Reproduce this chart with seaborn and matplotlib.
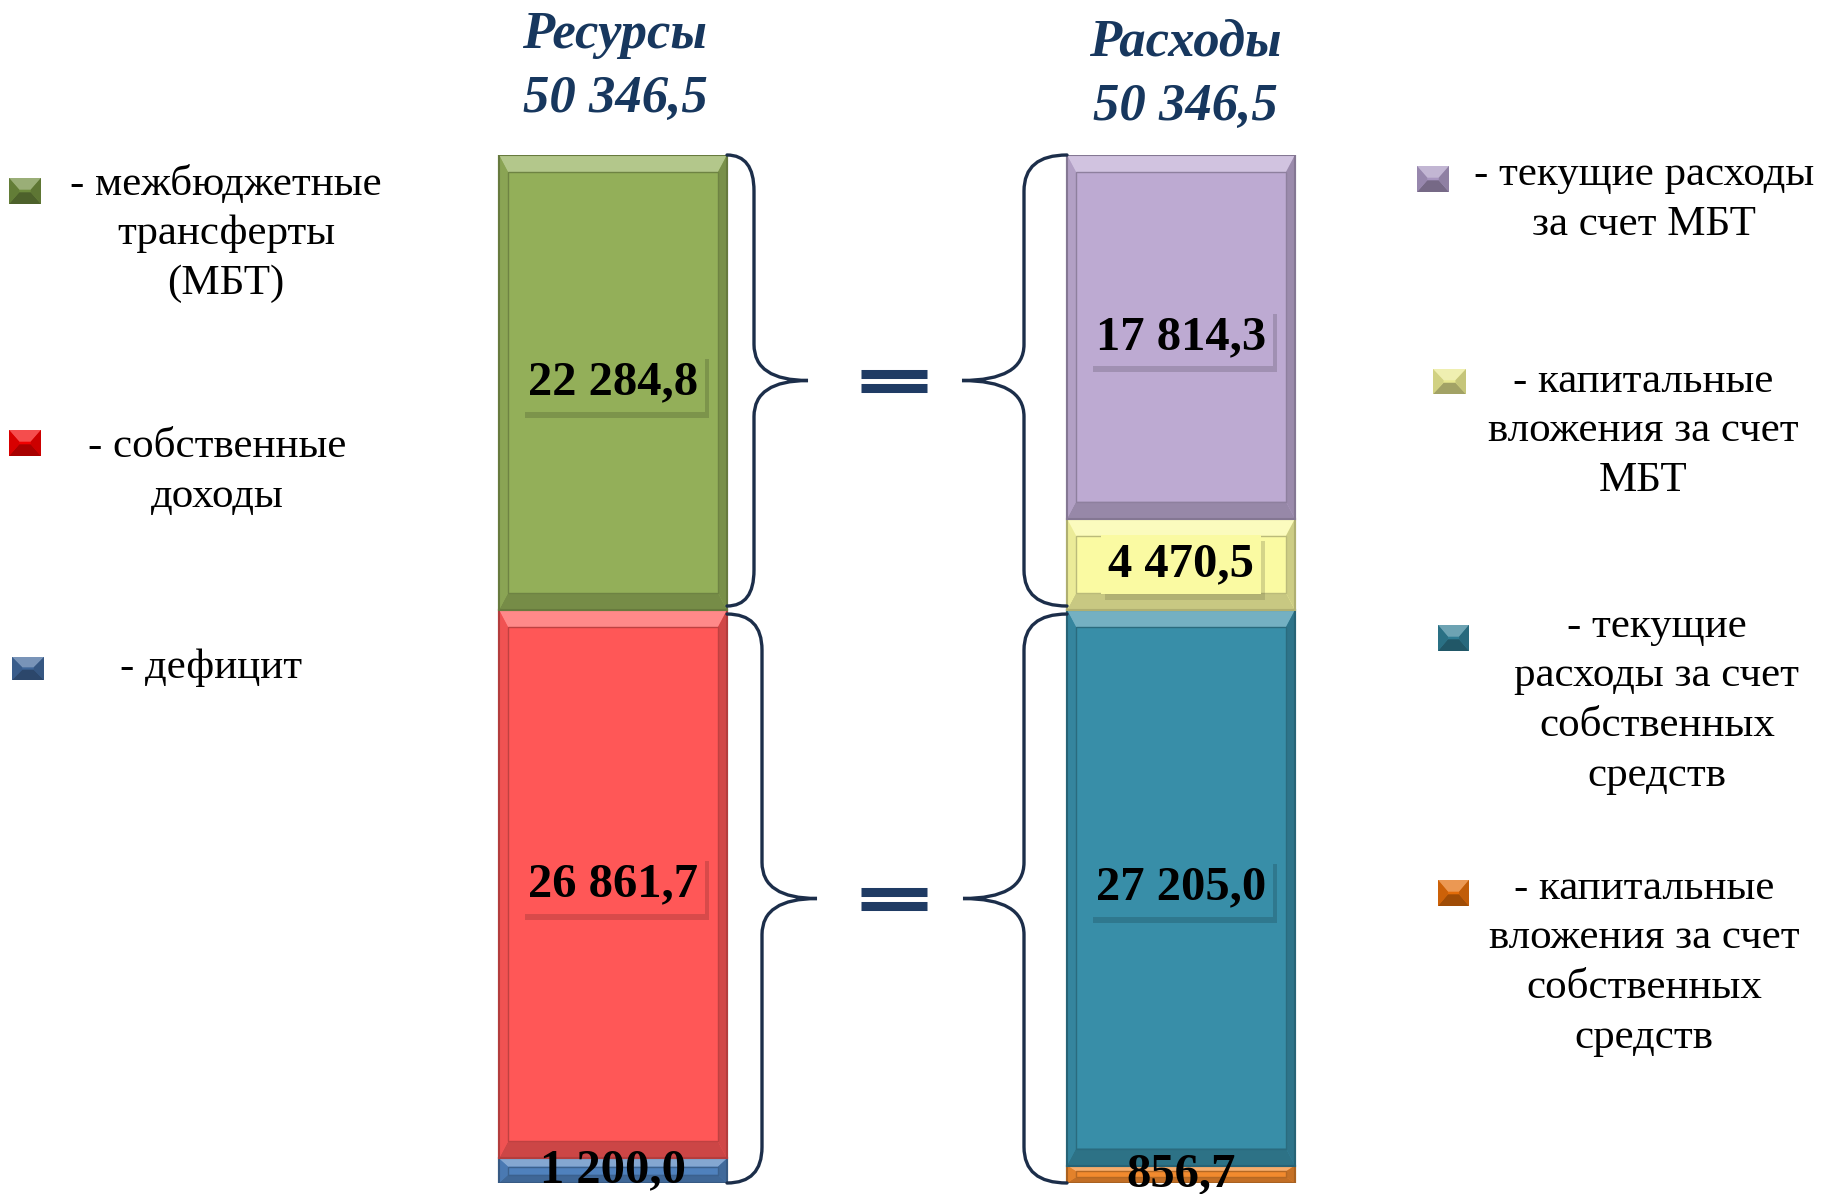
import numpy as np
import matplotlib
matplotlib.use("Agg")
import matplotlib.pyplot as plt
import matplotlib.colors as mcolors
from matplotlib.patches import Polygon, PathPatch, Rectangle
from matplotlib.path import Path
import seaborn as sns

# --- data -------------------------------------------------------------
sides = ["Ресурсы", "Расходы"]

# Ресурсы, снизу вверх
res_names = ["- дефицит", "- собственные\nдоходы", "- межбюджетные\nтрансферты\n(МБТ)"]
res_values = [1200.0, 26861.7, 22284.8]
res_colors = ["#4F81BD", "#FF5757", "#93AF59"]
res_marker_colors = ["#3F6699", "#F00000", "#6E8B3D"]

# Расходы, снизу вверх
exp_names = ["- капитальные\nвложения за счет\nсобственных\nсредств",
             "- текущие\nрасходы за счет\nсобственных\nсредств",
             "- капитальные\nвложения за счет\nМБТ",
             "- текущие расходы\nза счет МБТ"]
exp_values = [856.7, 27205.0, 4470.5, 17814.3]
exp_colors = ["#F28A2E", "#388EA8", "#FAFAA2", "#BDAAD2"]
exp_marker_colors = ["#E36C09", "#2F7C93", "#E8E890", "#A896C0"]

NAVY = "#17375E"
BRACE = "#1C2E4A"


def fmt(v):
    return f"{v:,.1f}".replace(",", " ").replace(".", ",")


def shade(color, f):
    rgb = np.array(mcolors.to_rgb(color))
    if f >= 0:
        return tuple(rgb + (1 - rgb) * f)
    return tuple(rgb * (1 + f))


# --- figure -----------------------------------------------------------
sns.set_theme(style="white")
plt.rcParams["font.family"] = ["Liberation Serif", "DejaVu Serif"]

W, H = 1824, 1194
fig = plt.figure(figsize=(W / 100, H / 100), dpi=100)
fig.patch.set_facecolor("white")

bar_top, bar_bot = 155, 1183          # pixel rows of the bar column
ax = fig.add_axes([0, (H - bar_bot) / H, 1, (bar_bot - bar_top) / H])
ax.set_facecolor("none")

total = sum(res_values)
unit_px = 568.0                        # pixels between the two bar centres
BAR_W = 228 / unit_px

for side, values, colors in [(sides[0], res_values, res_colors),
                             (sides[1], exp_values, exp_colors)]:
    base = 0.0
    for v, c in zip(values, colors):
        sns.barplot(x=[side], y=[v], order=sides, bottom=base, color=c,
                    width=BAR_W, saturation=1, ax=ax,
                    edgecolor=shade(c, -0.3), linewidth=1.5)
        base += v

ax.set_xlim(-613 / unit_px, 1 + (W - 1181) / unit_px)
ax.set_ylim(0, total)
ax.axis("off")

px_x = 1 / unit_px
px_y = total / (bar_bot - bar_top)

# bevel overlay for each bar segment
seg_colors = res_colors + exp_colors
bars = [p for p in ax.patches if isinstance(p, Rectangle)]
for p, c in zip(bars, seg_colors):
    x0, w = p.get_x(), p.get_width()
    y0, h = p.get_y(), p.get_height()
    x1, y1 = x0 + w, y0 + h
    ix = 9 * px_x
    iy = min(17 * px_y, h / 3)
    polys = [
        ([(x0, y1), (x1, y1), (x1 - ix, y1 - iy), (x0 + ix, y1 - iy)], shade(c, 0.3)),
        ([(x0, y0), (x1, y0), (x1 - ix, y0 + iy), (x0 + ix, y0 + iy)], shade(c, -0.2)),
        ([(x0, y0), (x0 + ix, y0 + iy), (x0 + ix, y1 - iy), (x0, y1)], shade(c, -0.06)),
        ([(x1, y0), (x1 - ix, y0 + iy), (x1 - ix, y1 - iy), (x1, y1)], shade(c, -0.18)),
    ]
    for pts, col in polys:
        ax.add_patch(Polygon(pts, closed=True, fc=col, ec="none", zorder=3))
    ax.add_patch(Rectangle((x0 + ix, y0 + iy), w - 2 * ix, h - 2 * iy, fill=False,
                           ec=shade(c, -0.25), lw=1.0, zorder=3))
    ax.add_patch(Rectangle((x0, y0), w, h, fill=False, ec=shade(c, -0.3), lw=1.5, zorder=3))

# value labels
boxed = []
for p, c, v in zip(bars, seg_colors, res_values + exp_values):
    cx = p.get_x() + p.get_width() / 2
    cy = p.get_y() + p.get_height() / 2
    if p.get_height() > 3000:
        t = ax.text(cx, cy, fmt(v), ha="center", va="center", fontsize=35,
                    fontweight="bold", color="black", zorder=5,
                    bbox=dict(boxstyle="square,pad=0.15", fc=c, ec="none"))
        boxed.append((t, c))
    else:
        ax.text(cx, cy, fmt(v), ha="center", va="center", fontsize=35,
                fontweight="bold", color="black", zorder=5, clip_on=False)

# soft shadow under the label boxes
fig.canvas.draw()
inv = ax.transData.inverted()
for t, c in boxed:
    bb = t.get_bbox_patch().get_window_extent()
    (bx0, by0), (bx1, by1) = inv.transform([(bx0_, by0_) for bx0_, by0_ in
                                            [(bb.x0 + 4, bb.y0 - 6), (bb.x1 + 4, bb.y1 - 6)]])
    ax.add_patch(Rectangle((bx0, by0), bx1 - bx0, by1 - by0, fc=shade(c, -0.5),
                           ec="none", alpha=0.3, zorder=4.5))


# curly braces
def brace(x_edge, y_lo, y_hi, d_line, d_tip, direction):
    r = 36 * px_y
    xe = x_edge
    xl = x_edge + direction * d_line * px_x
    xt = x_edge + direction * d_tip * px_x
    ym = (y_lo + y_hi) / 2
    verts = [(xe, y_hi), (xl, y_hi), (xl, y_hi - r),
             (xl, ym + r), (xl, ym), (xt, ym),
             (xl, ym), (xl, ym - r),
             (xl, y_lo + r), (xl, y_lo), (xe, y_lo)]
    codes = [Path.MOVETO, Path.CURVE3, Path.CURVE3,
             Path.LINETO, Path.CURVE3, Path.CURVE3,
             Path.CURVE3, Path.CURVE3,
             Path.LINETO, Path.CURVE3, Path.CURVE3]
    ax.add_patch(PathPatch(Path(verts, codes), fill=False, ec=BRACE, lw=2.4,
                           zorder=6, clip_on=False, capstyle="round"))
    return ym


gap = 4 * px_y
left_edge = bars[0].get_x() + bars[0].get_width()
right_edge = bars[3].get_x()
res_split = res_values[0] + res_values[1]
exp_split = exp_values[0] + exp_values[1]

ym_top = brace(left_edge, res_split + gap, total, 27, 81, +1)
brace(right_edge, exp_split + gap, total, 43, 105, -1)
ym_bot = brace(left_edge, 0, res_split - gap, 35, 90, +1)
brace(right_edge, 0, exp_split - gap, 43, 104, -1)

# equals signs
xc = (left_edge + right_edge) / 2 - 3 * px_x
for ym in (ym_top, ym_bot):
    for off in (-7, 7):
        ax.plot([xc - 33 * px_x, xc + 33 * px_x], [ym + off * px_y] * 2,
                color="#1F3B64", lw=6.5, solid_capstyle="butt", zorder=6)


# titles
def fy(py):
    return 1 - py / H


for cx, base1, base2, name in [(615, 48, 112, sides[0]), (1185, 55, 120, sides[1])]:
    fig.text(cx / W, fy(base1), name, ha="center", va="baseline", fontsize=38,
             fontweight="bold", fontstyle="italic", color=NAVY)
    fig.text(cx / W, fy(base2), fmt(total), ha="center", va="baseline", fontsize=38,
             fontweight="bold", fontstyle="italic", color=NAVY)


# legend markers and texts
def marker(x0, y0, x1, y1, c):
    fx0, fx1 = x0 / W, x1 / W
    fy0, fy1 = fy(y1), fy(y0)
    ix = (fx1 - fx0) * 0.32
    iy = (fy1 - fy0) * 0.45
    polys = [
        ([(fx0, fy1), (fx1, fy1), (fx1 - ix, fy1 - iy), (fx0 + ix, fy1 - iy)], shade(c, 0.3)),
        ([(fx0, fy0), (fx1, fy0), (fx1 - ix, fy0 + iy), (fx0 + ix, fy0 + iy)], shade(c, -0.3)),
        ([(fx0, fy0), (fx0 + ix, fy0 + iy), (fx0 + ix, fy1 - iy), (fx0, fy1)], shade(c, -0.1)),
        ([(fx1, fy0), (fx1 - ix, fy0 + iy), (fx1 - ix, fy1 - iy), (fx1, fy1)], shade(c, -0.15)),
    ]
    fig.add_artist(Rectangle((fx0, fy0), fx1 - fx0, fy1 - fy0, transform=fig.transFigure,
                             fc=c, ec="none"))
    for pts, col in polys:
        fig.add_artist(Polygon(pts, closed=True, transform=fig.transFigure, fc=col, ec="none"))


legend_items = [
    (res_names[2], res_marker_colors[2], (9, 178, 41, 204), (226, 234)),
    (res_names[1], res_marker_colors[1], (9, 430, 41, 456), (217, 472)),
    (res_names[0], res_marker_colors[0], (12, 657, 44, 680), (211, 668)),
    (exp_names[3], exp_marker_colors[3], (1417, 166, 1449, 192), (1644, 200)),
    (exp_names[2], exp_marker_colors[2], (1433, 369, 1466, 394), (1643, 431)),
    (exp_names[1], exp_marker_colors[1], (1438, 625, 1469, 651), (1657, 701)),
    (exp_names[0], exp_marker_colors[0], (1438, 880, 1469, 906), (1644, 963)),
]
for text, col, box, (tx, ty) in legend_items:
    marker(*box, col)
    fig.text(tx / W, fy(ty), text, ha="center", va="center", multialignment="center",
             fontsize=31, linespacing=1.38, color="black")

fig.savefig("out.png", dpi=100, facecolor="white")
